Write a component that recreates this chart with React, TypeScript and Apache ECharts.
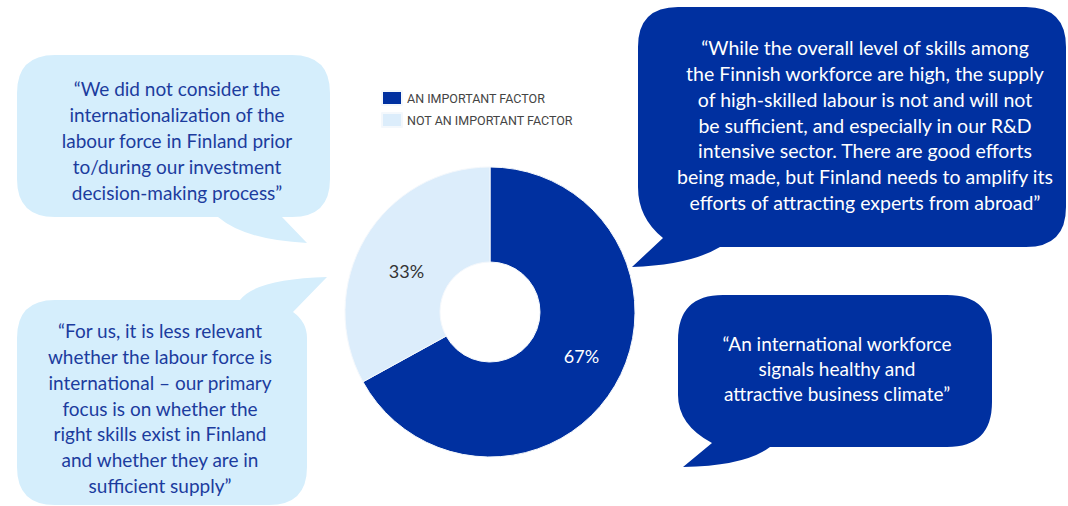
import React, { useEffect, useRef } from "react";
import * as echarts from "echarts";

const categories = ["AN IMPORTANT FACTOR", "NOT AN IMPORTANT FACTOR"];
const values = [67, 33];
const sliceColors = ["#0030a0", "#dcedfb"];
const labelColors = ["#ffffff", "#333333"];
const labelOffsets = [[5, -7], [3, 10]];

const quoteTopLeft = [
  "“We did not consider the",
  "internationalization of the",
  "labour force in Finland prior",
  "to/during our investment",
  "decision-making process”",
];
const quoteBottomLeft = [
  "“For us, it is less relevant",
  "whether the labour force is",
  "international – our primary",
  "focus is on whether the",
  "right skills exist in Finland",
  "and whether they are in",
  "sufficient supply”",
];
const quoteTopRight = [
  "“While the overall level of skills among",
  "the Finnish workforce are high, the supply",
  "of high-skilled labour is not and will not",
  "be sufficient, and especially in our R&D",
  "intensive sector. There are good efforts",
  "being made, but Finland needs to amplify its",
  "efforts of attracting experts from abroad”",
];
const quoteBottomRight = [
  "“An international workforce",
  "signals healthy and",
  "attractive business climate”",
];

const bubblePaths: Record<string, string> = {
  bubbleTL:
    "M 55 55 H 292 Q 330 55 330 93 V 179 Q 330 217 292 217 H 282 L 307 243 Q 245 240 218 217 H 55 Q 17 217 17 179 V 93 Q 17 55 55 55 Z",
  bubbleBL:
    "M 55 300 H 240 Q 256 279 327 277 L 293 312 Q 307 322 307 338 V 467 Q 307 505 269 505 H 55 Q 17 505 17 467 V 338 Q 17 300 55 300 Z",
  bubbleTR:
    "M 678 7 H 1026 Q 1066 7 1066 47 V 207 Q 1066 247 1026 247 H 720 Q 690 265 632 267 L 663 238 Q 638 218 638 187 V 47 Q 638 7 678 7 Z",
  bubbleBR:
    "M 723 295 H 947 Q 992 295 992 340 V 402 Q 992 447 947 447 H 770 Q 745 466 683 467 L 712 443 Q 678 425 678 395 V 340 Q 678 295 723 295 Z",
};

Object.keys(bubblePaths).forEach((k) => {
  echarts.graphic.registerShape(k, echarts.graphic.extendPath(bubblePaths[k], {}) as any);
});

const FONT = "Lato, 'Noto Sans', sans-serif";

export default function App() {
  const ref = useRef<HTMLDivElement>(null);
  useEffect(() => {
    if (!ref.current) return;
    const chart = echarts.init(ref.current, undefined, { renderer: "svg" });
    const textEl = (lines: string[], x: number, y: number, fill: string, lh: number, fs: number) => ({
      type: "text",
      x,
      y,
      z: 10,
      style: {
        text: lines.join("\n"),
        fill,
        fontSize: fs,
        fontFamily: FONT,
        lineHeight: lh,
        align: "center",
        verticalAlign: "middle",
      },
    });
    chart.setOption({
      animation: false,
      backgroundColor: "#ffffff",
      legend: {
        orient: "vertical",
        left: 381,
        top: 90,
        padding: 0,
        itemWidth: 20,
        itemHeight: 14,
        itemGap: 6,
        icon: "rect",
        data: categories,
        textStyle: { fontSize: 12.5, color: "#444", fontFamily: "Roboto, sans-serif" },
      },
      graphic: [
        { type: "bubbleTL", x: 0, y: 0, z: 1, style: { fill: "#d5eefc" } },
        { type: "bubbleBL", x: 0, y: 0, z: 1, style: { fill: "#d5eefc" } },
        { type: "bubbleTR", x: 0, y: 0, z: 1, style: { fill: "#0030a0" } },
        { type: "bubbleBR", x: 0, y: 0, z: 1, style: { fill: "#0030a0" } },
        textEl(quoteTopLeft, 177, 140, "#1c3c9e", 26, 19),
        textEl(quoteBottomLeft, 160, 408, "#1c3c9e", 25.7, 19),
        textEl(quoteTopRight, 865, 125, "#ffffff", 25.7, 19.5),
        textEl(quoteBottomRight, 837, 368, "#ffffff", 25, 19),
      ],
      series: [
        {
          type: "pie",
          center: [490, 312],
          radius: [50, 145],
          startAngle: 90,
          clockwise: true,
          z: 2,
          itemStyle: { borderColor: "#f4f8fc", borderWidth: 1 },
          label: {
            show: true,
            position: "inside",
            formatter: "{c}%",
            fontSize: 18,
            fontFamily: FONT,
          },
          labelLine: { show: false },
          emphasis: { disabled: true },
          data: categories.map((name, i) => ({
            name,
            value: values[i],
            itemStyle: { color: sliceColors[i] },
            label: { color: labelColors[i], offset: labelOffsets[i] },
          })),
        },
      ],
    });
    return () => chart.dispose();
  }, []);
  return (
    <div
      ref={ref}
      style={{ position: "fixed", left: 0, top: 0, width: 1068, height: 506 }}
    />
  );
}
